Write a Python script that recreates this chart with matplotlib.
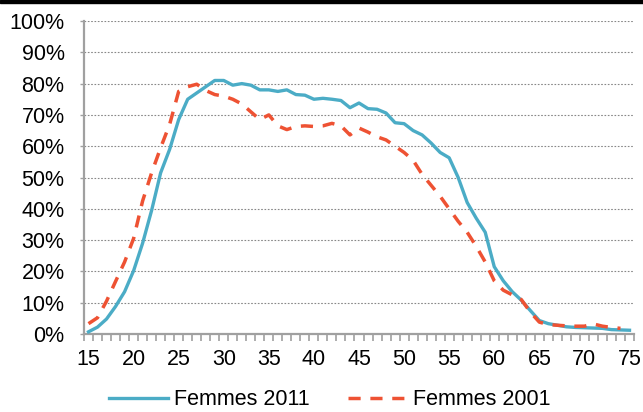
import numpy as np
import matplotlib.pyplot as plt
from matplotlib.patches import Rectangle
from matplotlib.ticker import FuncFormatter, MultipleLocator

plt.rcParams['font.family'] = ['Liberation Sans', 'DejaVu Sans']

# Taux par âge (en %)
ages_2011 = list(range(15, 76))
femmes_2011 = [
    0.7, 2.2, 4.8, 8.8, 13.5, 20.2, 29.0, 39.5, 51.5, 59.0,
    68.5, 75.0, 77.0, 79.0, 81.0, 81.0, 79.5, 80.0, 79.5, 78.0,
    78.0, 77.5, 78.0, 76.5, 76.3, 75.0, 75.3, 75.0, 74.6, 72.3,
    73.8, 72.0, 71.8, 70.6, 67.5, 67.2, 65.0, 63.6, 61.0, 58.0,
    56.3, 50.0, 42.0, 37.0, 32.5, 21.5, 17.0, 13.5, 10.8, 7.5,
    4.3, 3.3, 2.8, 2.3, 2.1, 2.0, 1.9, 1.8, 1.4, 1.3, 1.2,
]
ages_2001 = list(range(15, 75))
femmes_2001 = [
    3.3, 5.2, 10.5, 16.8, 23.0, 30.5, 42.5, 51.5, 59.5, 67.0,
    77.5, 79.0, 79.8, 77.8, 76.5, 76.0, 75.0, 73.5, 71.0, 68.5,
    70.0, 66.5, 65.3, 66.3, 66.5, 66.3, 66.5, 67.3, 66.5, 63.6,
    65.8, 64.5, 63.0, 62.0, 60.0, 58.0, 55.5, 51.0, 47.5, 44.0,
    40.0, 36.0, 32.5, 28.0, 23.0, 17.0, 14.0, 12.5, 11.0, 7.0,
    3.8, 3.0, 2.8, 2.6, 2.5, 2.5, 3.2, 2.5, 2.1, 1.8,
]
labels = ['Femmes 2011', 'Femmes 2001']

fs = 15.5
fig = plt.figure(figsize=(6.43, 4.12), dpi=100)
ax = fig.add_axes([84 / 643, 1 - 334 / 412, (634 - 84) / 643, (334 - 21) / 412])

# bandeau noir en haut
fig.patches.append(Rectangle((0, 1 - 3 / 412), 1, 3 / 412, transform=fig.transFigure,
                             color='black', zorder=10))

ax.plot(ages_2011, femmes_2011, color='#4BACC6', linewidth=2.4, label=labels[0], zorder=3)
ax.plot(ages_2001, femmes_2001, color='#EE5233', linewidth=2.5, dashes=(3.5, 2.8),
        label=labels[1], zorder=4)

# axe de catégories : points entre les graduations
ax.set_xlim(14.5, 75.5)
ax.set_ylim(0, 100)
ax.set_xticks(range(15, 76, 5))
ax.set_xticks(np.arange(14.5, 76, 1), minor=True)
ax.yaxis.set_major_locator(MultipleLocator(10))
ax.yaxis.set_major_formatter(FuncFormatter(lambda v, _: f'{int(v)}%'))

ax.grid(axis='y', color='#888888', linestyle=(0, (1.5, 1.5)), linewidth=0.8)
ax.set_axisbelow(True)

for s in ['top', 'right']:
    ax.spines[s].set_visible(False)
for s in ['left', 'bottom']:
    ax.spines[s].set_color('#A0A0A0')
    ax.spines[s].set_linewidth(1.6)

ax.tick_params(axis='x', which='major', length=0, labelsize=fs, pad=11)
ax.tick_params(axis='x', which='minor', direction='out', length=5, width=1.2,
               color='#A0A0A0')
ax.tick_params(axis='y', direction='out', length=3, width=1.0,
               color='#A0A0A0', labelsize=fs, pad=11)

fig.legend(loc='center', bbox_to_anchor=(0.513, 0.03), ncol=2, frameon=False,
           fontsize=fs, handlelength=2.75, columnspacing=1.75, handletextpad=0.3,
           borderpad=0)

fig.savefig('out.png', dpi=100)
